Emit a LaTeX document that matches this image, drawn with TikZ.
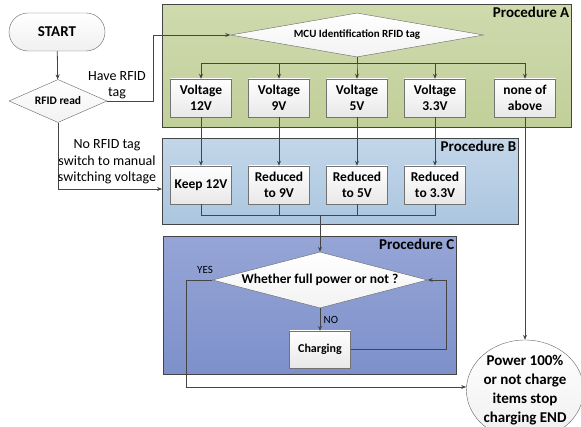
\documentclass[tikz,border=0pt]{standalone}
\usepackage{fontspec}
\setmainfont{Carlito}
\usetikzlibrary{shapes.geometric,arrows.meta}
\definecolor{greenTop}{HTML}{CFDAAD}
\definecolor{greenBot}{HTML}{C1CF9A}
\definecolor{blueTop}{HTML}{C3D6E9}
\definecolor{blueBot}{HTML}{ABC6DF}
\definecolor{violTop}{HTML}{96A5D6}
\definecolor{violBot}{HTML}{7D90CA}
\definecolor{lineGray}{HTML}{454545}

\begin{document}
\begin{tikzpicture}[x=1pt,y=-1pt,
	line/.style={draw=lineGray,line width=0.8pt},
	arr/.style={line,-{Stealth[length=5pt,width=4pt]}},
	panel/.style={draw=lineGray,line width=1pt,inner sep=0pt},
	box/.style={draw=black!55,top color=white,bottom color=black!9,minimum width=61pt,minimum height=38pt,inner sep=1pt,align=center,font=\fontsize{13.5}{15.5}\selectfont\bfseries},
	dia/.style={diamond,draw=black!60,top color=white,bottom color=black!5,inner sep=0pt},
	plabel/.style={anchor=north east,inner sep=2pt,font=\fontsize{15}{17}\selectfont\bfseries},
	note/.style={align=center,font=\fontsize{14}{16.5}\selectfont}]

	\useasboundingbox (0,0) rectangle (581,427);

	% the three procedures
	\node[panel,top color=greenTop,bottom color=greenBot,minimum width=409pt,minimum height=123pt] (procA) at (366.5,66.5) {};
	\node[panel,top color=blueTop,bottom color=blueBot,minimum width=356pt,minimum height=86pt] (procB) at (340,182) {};
	\node[panel,top color=violTop,bottom color=violBot,minimum width=293pt,minimum height=138pt] (procC) at (309.5,306) {};
	\node[plabel] (labA) at (procA.north east) {Procedure A};
	\node[plabel] (labB) at (procB.north east) {Procedure B};
	\node[plabel] (labC) at (procC.north east) {Procedure C};

	% start and reading
	\node[draw=black!60,top color=white,bottom color=black!6,rounded corners=19pt,minimum width=96pt,minimum height=38pt,font=\fontsize{15}{17}\selectfont\bfseries] (start) at (57,32) {START};
	\node[dia,aspect=2.28,minimum width=98pt,minimum height=43pt,font=\fontsize{11.5}{13}\selectfont\bfseries] (rfid) at (58,101) {RFID read};
	\node[dia,aspect=5.75,minimum width=253pt,minimum height=44pt,font=\fontsize{11}{13}\selectfont\bfseries] (mcu) at (357,35) {MCU Identification RFID tag};

	% procedure A
	\node[box] (vA1) at (201,98) {Voltage\\12V};
	\node[box] (vA2) at (279,98) {Voltage\\9V};
	\node[box] (vA3) at (357,98) {Voltage\\5V};
	\node[box] (vA4) at (435,98) {Voltage\\3.3V};
	\node[box] (vA5) at (525,98) {none of\\above};

	% procedure B
	\node[box] (kB1) at (201,185) {Keep 12V};
	\node[box] (kB2) at (279,185) {Reduced\\to 9V};
	\node[box] (kB3) at (357,185) {Reduced\\to 5V};
	\node[box] (kB4) at (435,185) {Reduced\\to 3.3V};

	% procedure C
	\node[dia,aspect=3.84,minimum width=215pt,minimum height=56pt,font=\fontsize{13.5}{15}\selectfont\bfseries] (full) at (320,280) {Whether full power or not ?};
	\node[box,minimum height=37pt,font=\fontsize{12}{14}\selectfont\bfseries] (chg) at (320,349.5) {Charging};

	% end
	\node[ellipse,draw=black!60,top color=white,bottom color=black!6,inner sep=0pt,minimum width=116pt,minimum height=100pt,align=center,font=\fontsize{15}{19}\selectfont\bfseries] (stop) at (525,390) {Power 100\%\\or not charge\\items stop\\charging END};

	% connectors
	\draw[arr] (start) -- (rfid);
	\draw[arr] (rfid.east) -- ++(46,0) |- (mcu.west);
	\node[note] (have) at (117,85) {Have RFID\\tag};
	\coordinate (inB) at (162,189);
	\draw[arr] (rfid.south) |- (inB);
	\node[note] (norfid) at (107,162) {No RFID tag\\switch to manual\\switching voltage};

	\foreach \i in {1,...,5}
		\draw[arr] (mcu.south) -- ++(0,6) -| (vA\i.north);
	\foreach \i in {1,...,4}
		\draw[arr] (vA\i.south) -- (kB\i.north);
	\draw[arr] (vA5.south) -- (vA5.south |- stop.north);

	\coordinate (mrg) at (320,215);
	\foreach \i in {1,...,4}
		\draw[line] (kB\i.south) |- (mrg);
	\draw[arr] (mrg) -- (full.north);

	\draw[arr] (full.south) -- node[right,font=\fontsize{11}{13}\selectfont] (no) {NO} (chg.north);
	\draw[arr] (chg.east) -- ++(96,0) |- (full.east);
	\node[font=\fontsize{11}{13}\selectfont] (yes) at (205,270) {YES};
	\coordinate (yesc) at (186,387);
	\draw[arr] (full.west) -| (yesc) -- (yesc -| stop.west);
\end{tikzpicture}
\end{document}
